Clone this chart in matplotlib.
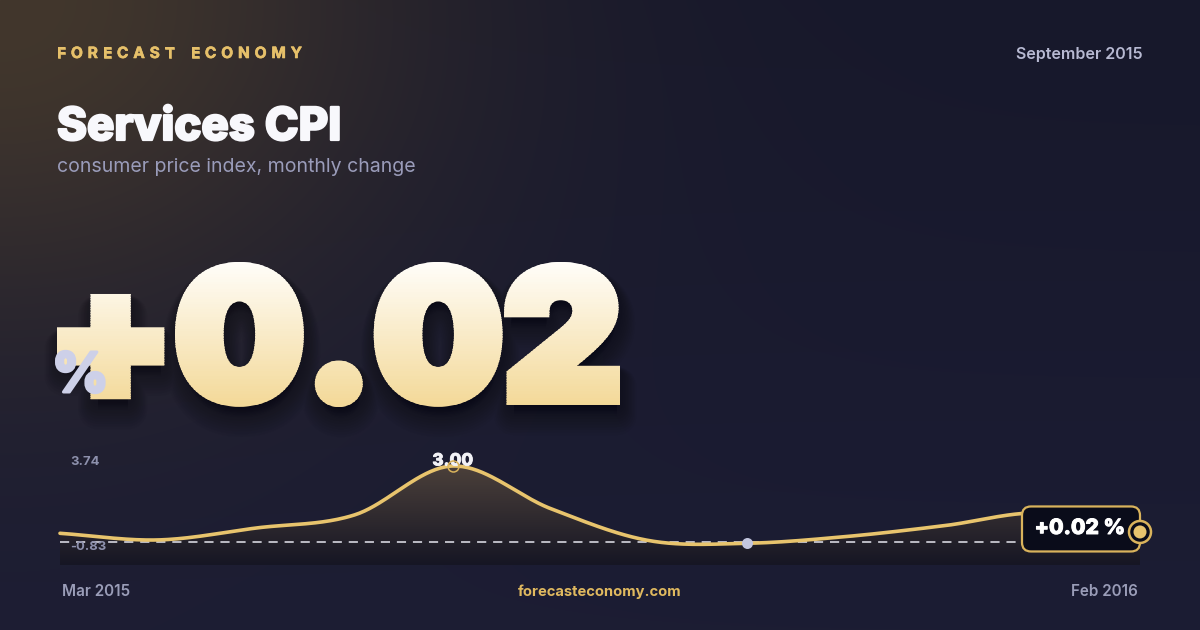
import numpy as np
import matplotlib
matplotlib.use("Agg")
import matplotlib.pyplot as plt
import matplotlib.transforms as mtransforms
import matplotlib.patheffects as pe
from matplotlib.textpath import TextPath, TextToPath
from matplotlib.font_manager import FontProperties
from matplotlib.patches import PathPatch, FancyBboxPatch, Polygon, Circle, Rectangle

# ---------------- data ----------------
brand = "FORECAST ECONOMY"
report_date = "September 2015"
title = "Services CPI"
subtitle = "consumer price index, monthly change"
months = ["Mar 2015", "Apr 2015", "May 2015", "Jun 2015", "Jul 2015", "Aug 2015",
          "Sep 2015", "Oct 2015", "Nov 2015", "Dec 2015", "Jan 2016", "Feb 2016"]
values = [-0.04, -0.34, 0.20, 0.79, 3.00, 1.07, -0.37, -0.49, -0.19, 0.30, 0.88, 0.02]
y_bound_values = [3.74, -0.83]
y_bound_labels = ["3.74", "-0.83"]
ref_value = -0.42
headline = "+0.02"
unit = "%"
end_label = "+0.02 %"
peak_label = "3.00"
site = "forecasteconomy.com"

W, H = 1200, 630
FONT = "Inter"


def Y(y):
    return H - y


def PT(px):
    return px * 0.72


def bold_fx(color, px):
    return [pe.withStroke(linewidth=PT(px), foreground=color)]


fig = plt.figure(figsize=(12, 6.3), dpi=100)

# ---------------- background ----------------
ax = fig.add_axes([0, 0, 1, 1])
ax.set_axis_off()
yy, xx = np.mgrid[0:H, 0:W].astype(float)
base = np.array([23, 24, 43]) / 255
warm = np.array([66, 55, 45]) / 255
bottom = np.array([28, 29, 52]) / 255
d = np.sqrt(xx ** 2 + (yy * 1.25) ** 2)
glow = np.exp(-(d / 420.0) ** 2)
img = base + (warm - base) * glow[..., None]
img = img + (bottom - base) * (yy / H)[..., None] * (1 - glow[..., None])
img = np.clip(img, 0, 1)
ax.imshow(img, extent=[0, W, 0, H], origin="upper", aspect="auto", zorder=0)
ax.set_xlim(0, W)
ax.set_ylim(0, H)

# ---------------- header texts ----------------
ttp = TextToPath()
fp_brand = FontProperties(family=FONT, weight="bold", size=PT(15.5))
widths = []
for ch in brand:
    if ch == " ":
        widths.append(None)
    else:
        w, h, dd = ttp.get_text_width_height_descent(ch, fp_brand, ismath=False)
        widths.append(w * 100 / 72)
ink = sum(w for w in widths if w is not None)
target_w = 302 - 57
n_gaps = len(brand) - 1
space_w = 6.0
tracking = (target_w - ink - space_w) / n_gaps
x = 57
for ch, w in zip(brand, widths):
    if w is None:
        x += space_w + tracking
        continue
    ax.text(x, Y(58), ch, fontproperties=fp_brand, color="#e6c06a",
            ha="left", va="baseline", zorder=5, path_effects=bold_fx("#e6c06a", 0.6))
    x += w + tracking

ax.text(1143, Y(59), report_date, family=FONT, weight="semibold", fontsize=PT(16),
        color="#b7b9d2", ha="right", va="baseline", zorder=5)
ax.text(57, Y(140), title, family=FONT, weight="heavy", fontsize=PT(45.5),
        color="#f8f8fc", ha="left", va="baseline", zorder=5,
        path_effects=bold_fx("#f8f8fc", 2.2))
ax.text(57, Y(172), subtitle, family=FONT, weight="normal", fontsize=PT(19.5),
        color="#9a9cba", ha="left", va="baseline", zorder=5)

# ---------------- big headline number with gradient ----------------
fp_big = FontProperties(family=FONT, weight="black")
tp = TextPath((0, 0), headline, size=100, prop=fp_big)
ext = tp.get_extents()
STROKE = 11.0  # px of extra weight
hs = STROKE / 2
bx0, bx1, btop, bbot = 57 + hs, 620 - hs, 262 + hs, 407 - hs
sx = (bx1 - bx0) / ext.width
sy = (bbot - btop) / ext.height
tr = (mtransforms.Affine2D().translate(-ext.x0, -ext.y0)
      .scale(sx, sy).translate(bx0, Y(bbot)))
big_path = tr.transform_path(tp)

# soft shadow
for k in range(10):
    off = 5 + k * 1.2
    lw = STROKE + 2 + k * 3.0
    a = 0.038
    sp = mtransforms.Affine2D().translate(2, -off).transform_path(big_path)
    ax.add_patch(PathPatch(sp, facecolor=(0.01, 0.01, 0.04, a),
                           edgecolor=(0.01, 0.01, 0.04, a), lw=PT(lw),
                           joinstyle="round", zorder=2))

top_c = np.array([255, 254, 251]) / 255
bot_c = np.array([243, 216, 150]) / 255
n_bands = 60
y_top_px, y_bot_px = 262 - 2, 407 + 2
edges = np.linspace(y_top_px, y_bot_px, n_bands + 1)
for k in range(n_bands):
    f = (k + 0.5) / n_bands
    c = top_c + (bot_c - top_c) * f
    rect = Rectangle((0, Y(edges[k + 1]) - 0.6), W, edges[k + 1] - edges[k] + 1.2,
                     transform=ax.transData, facecolor="none", edgecolor="none")
    patch = PathPatch(big_path, facecolor=c, edgecolor=c, lw=PT(STROKE),
                      joinstyle="miter", zorder=3 + k * 0.001)
    ax.add_patch(patch)
    patch.set_clip_path(rect)

ax.text(52, Y(392), unit, family=FONT, weight="heavy", fontsize=PT(55),
        color="#cdd0e8", ha="left", va="baseline", zorder=6,
        path_effects=bold_fx("#cdd0e8", 3.0))

# ---------------- chart ----------------
ylo, yhi = -1.472, 3.74
cax = fig.add_axes([60 / W, (H - 565) / H, 1080 / W, (565 - 449.6) / H])
cax.set_axis_off()
cax.patch.set_alpha(0)
xi = np.arange(len(values), dtype=float)
cax.set_xlim(0, len(values) - 1)
cax.set_ylim(ylo, yhi)


def catmull_rom(x, y, n=40):
    pts = np.column_stack([x, y])
    P = np.vstack([2 * pts[0] - pts[1], pts, 2 * pts[-1] - pts[-2]])
    out = []
    tt = np.linspace(0, 1, n, endpoint=False)[:, None]
    for i in range(1, len(P) - 2):
        p0, p1, p2, p3 = P[i - 1], P[i], P[i + 1], P[i + 2]
        seg = 0.5 * ((2 * p1) + (-p0 + p2) * tt
                     + (2 * p0 - 5 * p1 + 4 * p2 - p3) * tt ** 2
                     + (-p0 + 3 * p1 - 3 * p2 + p3) * tt ** 3)
        out.append(seg)
    out.append(P[-2][None, :])
    return np.vstack(out)


curve = catmull_rom(xi, np.array(values))
poly = np.vstack([curve, [[curve[-1, 0], ylo], [curve[0, 0], ylo]]])
fill_patch = Polygon(poly, closed=True, facecolor="none", edgecolor="none",
                     transform=cax.transData)
cax.add_patch(fill_patch)
f_top = np.array([84, 71, 62]) / 255
f_bot = np.array([22, 22, 36]) / 255
ft = np.linspace(0, 1, 256)[:, None]
fgrad = f_top + (f_bot - f_top) * ft
fgrad = np.repeat(fgrad[:, None, :], 2, axis=1)
fim = cax.imshow(fgrad, extent=[0, len(values) - 1, ylo, yhi], origin="upper",
                 aspect="auto", zorder=1)
fim.set_clip_path(fill_patch)
cax.set_xlim(0, len(values) - 1)
cax.set_ylim(ylo, yhi)

cax.axhline(ref_value, color="#e6e6ef", lw=1.1, ls=(0, (6, 4.5)), zorder=2)
cax.plot(curve[:, 0], curve[:, 1], color="#e8c46d", lw=2.6,
         solid_capstyle="round", zorder=3, clip_on=False)

# peak
ipk = int(np.argmax(values))
cax.annotate(peak_label, xy=(ipk, values[ipk]), xytext=(0, 5), textcoords="offset pixels",
             ha="center", va="center", family=FONT, weight="heavy", fontsize=PT(17),
             color="#f2f2f6", zorder=4, path_effects=bold_fx("#f2f2f6", 0.8))
cax.plot([ipk], [values[ipk]], marker="o", ms=PT(11), mfc="none", mec="#d9b35c",
         mew=1.1, zorder=5, clip_on=False)
# minimum
imn = int(np.argmin(values))
cax.plot([imn], [values[imn]], marker="o", ms=PT(11), mfc="#c3c6de", mec="none",
         zorder=5, clip_on=False)

# bound labels
for lab, val, dy in [(y_bound_labels[0], y_bound_values[0], -12),
                     (y_bound_labels[1], y_bound_values[1], 4)]:
    cax.annotate(lab, xy=(0, val), xytext=(10, dy),
                 textcoords="offset pixels", ha="left", va="center", family=FONT,
                 weight="bold", fontsize=PT(13), color="#8d90ac", zorder=4)

# month labels
cax.annotate(months[0], xy=(0, 0), xycoords=("data", "axes fraction"),
             xytext=(2, -27), textcoords="offset pixels", ha="left", va="center",
             family=FONT, weight="semibold", fontsize=PT(15.2), color="#9a9db8")
cax.annotate(months[-1], xy=(len(values) - 1, 0), xycoords=("data", "axes fraction"),
             xytext=(-2, -27), textcoords="offset pixels", ha="right", va="center",
             family=FONT, weight="semibold", fontsize=PT(15.2), color="#9a9db8")

# ---------------- overlay (end label) ----------------
ov = fig.add_axes([0, 0, 1, 1])
ov.set_axis_off()
ov.patch.set_alpha(0)
ov.set_xlim(0, W)
ov.set_ylim(0, H)
ex, ey = cax.transData.transform((len(values) - 1, values[-1]))
bw, bh = 118, 45
box = FancyBboxPatch((ex - bw, ey - bh / 2 + 3), bw, bh,
                     boxstyle="round,pad=0,rounding_size=9",
                     facecolor="#0a0c1a", edgecolor="#d9b35c", lw=1.6, zorder=5)
ov.add_patch(box)
ov.text(ex - bw / 2 - 1, ey + 4, end_label, family=FONT, weight="heavy",
        fontsize=PT(21), color="#ffffff", ha="center", va="center", zorder=6,
        path_effects=bold_fx("#ffffff", 1.0))
ov.add_patch(Circle((ex, ey), 11, facecolor="#0a0c1a", edgecolor="#d9b35c",
                    lw=1.8, zorder=7))
ov.add_patch(Circle((ex, ey), 6.5, facecolor="#e8c46d", edgecolor="none", zorder=8))

ov.text(600, Y(592), site, family=FONT, weight="bold", fontsize=PT(14.7),
        color="#e0b95f", ha="center", va="center", zorder=6)

fig.savefig("out.png", dpi=100, facecolor="#17182b")
